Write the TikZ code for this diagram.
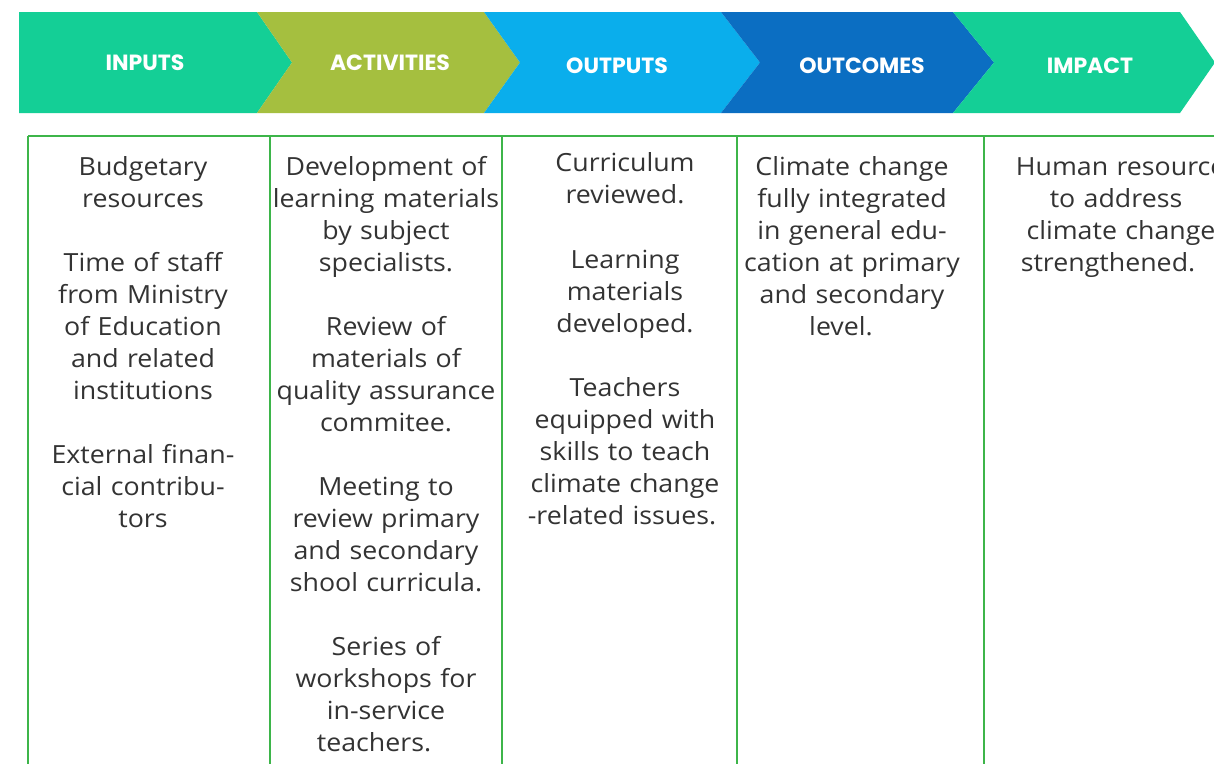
\documentclass[tikz,border=0pt]{standalone}
\usepackage{fontspec}
\setmainfont{Open Sans}[FakeStretch=1.07]
\newfontfamily\headfont{Poppins}
\begin{document}
\begin{tikzpicture}[x=1pt,y=-1pt,
  headlbl/.style={font=\headfont\bfseries\fontsize{22}{24}\selectfont, text=white, inner sep=0pt},
  cell/.style={font=\fontsize{25}{32}\selectfont, text=txtgray, align=center, anchor=north, inner sep=0pt, text width=320pt},
  grid/.style={draw=gridgreen, line width=2.4pt}]
\definecolor{chgreen}{HTML}{14CF96}
\definecolor{cholive}{HTML}{A5BF3F}
\definecolor{chlblue}{HTML}{0AAEEC}
\definecolor{chdblue}{HTML}{0B6EC2}
\definecolor{gridgreen}{HTML}{3DB54A}
\definecolor{txtgray}{HTML}{333333}
\useasboundingbox (0,0) rectangle (1214,763);
\clip (0,0) rectangle (1214,763);
\fill[white] (0,0) rectangle (1214,763);
% chevron banner
\fill[chgreen] (19,12) -- (257,12) -- (292,62.5) -- (257,113) -- (19,113) -- cycle;
\fill[cholive] (257,12) -- (484,12) -- (520,62.5) -- (484,113) -- (257,113) -- (292,62.5) -- cycle;
\fill[chlblue] (484,12) -- (721,12) -- (760,62.5) -- (721,113) -- (484,113) -- (520,62.5) -- cycle;
\fill[chdblue] (721,12) -- (953,12) -- (994,62.5) -- (953,113) -- (721,113) -- (760,62.5) -- cycle;
\fill[chgreen] (953,12) -- (1180,12) -- (1215,62.5) -- (1180,113) -- (953,113) -- (994,62.5) -- cycle;
\node[headlbl] (hin) at (145,63) {INPUTS};
\node[headlbl] (hact) at (390,63) {ACTIVITIES};
\node[headlbl] (hout) at (617,66) {OUTPUTS};
\node[headlbl] (hoc) at (862,66) {OUTCOMES};
\node[headlbl] (himp) at (1090,66) {IMPACT};
% table grid
\draw[grid] (28,136) -- (1230,136);
\foreach \gx in {28,270,502,737,984} \draw[grid] (\gx,136) -- (\gx,780);
% column texts
\node[cell] (cin) at (143,153) {\strut Budgetary\\resources\\[32pt]Time of staff\\from Ministry\\of Education\\and related\\institutions\\[32pt]External finan-\\cial contribu-\\tors};
\node[cell] (cact) at (386,153) {\strut Development of\\learning materials\\by subject\\specialists.\hspace*{20pt}\\[32pt]Review of\\materials of\\quality assurance\\commitee.\hspace*{24pt}\\[32pt]Meeting to\\review primary\\and secondary\\shool curricula.\hspace*{22pt}\\[32pt]Series of\\workshops for\\in-service\\teachers.\hspace*{24pt}};
\node[cell] (cout) at (625,149) {\strut Curriculum\\reviewed.\hspace*{20pt}\\[33pt]Learning\\materials\\developed.\hspace*{22pt}\\[32pt]Teachers\\equipped with\\skills to teach\\climate change\\-related issues.\hspace*{6pt}};
\node[cell] (coc) at (852,153) {\strut Climate change\\fully integrated\\in general edu-\\cation at primary\\and secondary\\level.\hspace*{22pt}};
\node[cell] (cimp) at (1116,153) {\strut\hspace*{22pt}Human resources\\to address\\\hspace*{10pt}climate change\\strengthened.\hspace*{16pt}};
\end{tikzpicture}
\end{document}
